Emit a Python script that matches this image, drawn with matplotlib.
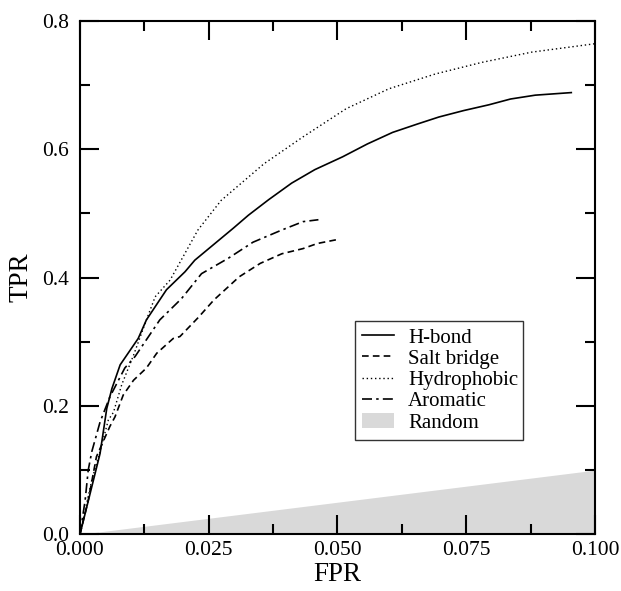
import matplotlib
matplotlib.use("Agg")
import matplotlib.pyplot as plt
import numpy as np
from matplotlib.ticker import MultipleLocator, FormatStrFormatter

plt.rcParams['font.family'] = ['Liberation Serif', 'DejaVu Serif']

# ROC curves per interaction type
hbond_fpr = [0.0, 0.0039, 0.0052, 0.0062, 0.0078, 0.0113, 0.0129, 0.0168, 0.0204, 0.0223,
             0.0262, 0.0298, 0.0327, 0.0366, 0.0411, 0.0456, 0.0510, 0.0558, 0.0607, 0.0655,
             0.0697, 0.0745, 0.0794, 0.0836, 0.0884, 0.0954]
hbond_tpr = [0.0, 0.126, 0.196, 0.227, 0.264, 0.305, 0.334, 0.381, 0.409, 0.427,
             0.453, 0.477, 0.497, 0.521, 0.547, 0.568, 0.588, 0.608, 0.626, 0.639,
             0.650, 0.660, 0.669, 0.678, 0.684, 0.688]

salt_fpr = [0.0, 0.0016, 0.0032, 0.0058, 0.0068, 0.0084, 0.0104, 0.0129, 0.0149, 0.0181,
            0.0194, 0.0230, 0.0260, 0.0309, 0.0350, 0.0392, 0.0433, 0.0461, 0.0499]
salt_tpr = [0.0, 0.053, 0.121, 0.168, 0.183, 0.217, 0.240, 0.259, 0.282, 0.305,
            0.308, 0.338, 0.365, 0.401, 0.422, 0.437, 0.445, 0.453, 0.459]

hydro_fpr = [0.0, 0.0023, 0.0039, 0.0055, 0.0065, 0.0081, 0.0104, 0.0129, 0.0146, 0.0175,
             0.0229, 0.0274, 0.0357, 0.0433, 0.0517, 0.0600, 0.0690, 0.0780, 0.0877, 0.0999]
hydro_tpr = [0.0, 0.085, 0.129, 0.178, 0.190, 0.233, 0.279, 0.334, 0.370, 0.396,
             0.474, 0.520, 0.577, 0.619, 0.663, 0.694, 0.717, 0.735, 0.751, 0.764]

arom_fpr = [0.0, 0.0010, 0.0016, 0.0023, 0.0039, 0.0058, 0.0087, 0.0107, 0.0155, 0.0197,
            0.0236, 0.0288, 0.0336, 0.0392, 0.0433, 0.0463]
arom_tpr = [0.0, 0.053, 0.100, 0.129, 0.175, 0.214, 0.259, 0.277, 0.334, 0.367,
            0.406, 0.430, 0.455, 0.474, 0.487, 0.490]

# random classifier reference: TPR = FPR
random_fpr = [0.0, 0.1]
random_tpr = [0.0, 0.1]

fig = plt.figure(figsize=(6.21, 5.91), dpi=100)
ax = fig.add_axes([0.1288, 0.0959, 0.8293, 0.8691])

ax.fill_between(random_fpr, 0, random_tpr, color='#d9d9d9', linewidth=0, label='Random')
ax.plot(hbond_fpr, hbond_tpr, color='black', lw=1.2, ls='-', label='H-bond')
ax.plot(salt_fpr, salt_tpr, color='black', lw=1.2, ls=(0, (4, 2.5)), label='Salt bridge')
ax.plot(hydro_fpr, hydro_tpr, color='black', lw=1.0, ls=(0, (1, 2)), label='Hydrophobic')
ax.plot(arom_fpr, arom_tpr, color='black', lw=1.2, ls=(0, (6, 2.5, 1.5, 2.5)), label='Aromatic')

ax.set_xlim(0, 0.1)
ax.set_ylim(0, 0.8)
ax.xaxis.set_major_locator(MultipleLocator(0.025))
ax.xaxis.set_minor_locator(MultipleLocator(0.0125))
ax.yaxis.set_major_locator(MultipleLocator(0.2))
ax.yaxis.set_minor_locator(MultipleLocator(0.1))
ax.xaxis.set_major_formatter(FormatStrFormatter('%.3f'))
ax.yaxis.set_major_formatter(FormatStrFormatter('%.1f'))
ax.tick_params(which='both', direction='in', top=True, right=True, width=1.5, labelsize=15.5)
ax.tick_params(axis='x', pad=5)
ax.tick_params(axis='y', pad=8)
ax.tick_params(which='major', length=14)
ax.tick_params(which='minor', length=7)
for s in ax.spines.values():
    s.set_linewidth(1.5)

ax.set_xlabel('FPR', fontsize=19.5, labelpad=1)
ax.set_ylabel('TPR', fontsize=19.5, labelpad=6)

handles, labels = ax.get_legend_handles_labels()
order = [1, 2, 3, 4, 0]
leg = ax.legend([handles[i] for i in order], [labels[i] for i in order],
                loc='lower left', bbox_to_anchor=(0.534, 0.184, 0.326, 0.237), mode='expand',
                fontsize=15, frameon=True, fancybox=False, edgecolor='black',
                handlelength=1.5, handletextpad=0.7, borderpad=0.35, labelspacing=0.08,
                borderaxespad=0)
leg.get_frame().set_linewidth(1.0)

fig.savefig('out.png', dpi=100)
